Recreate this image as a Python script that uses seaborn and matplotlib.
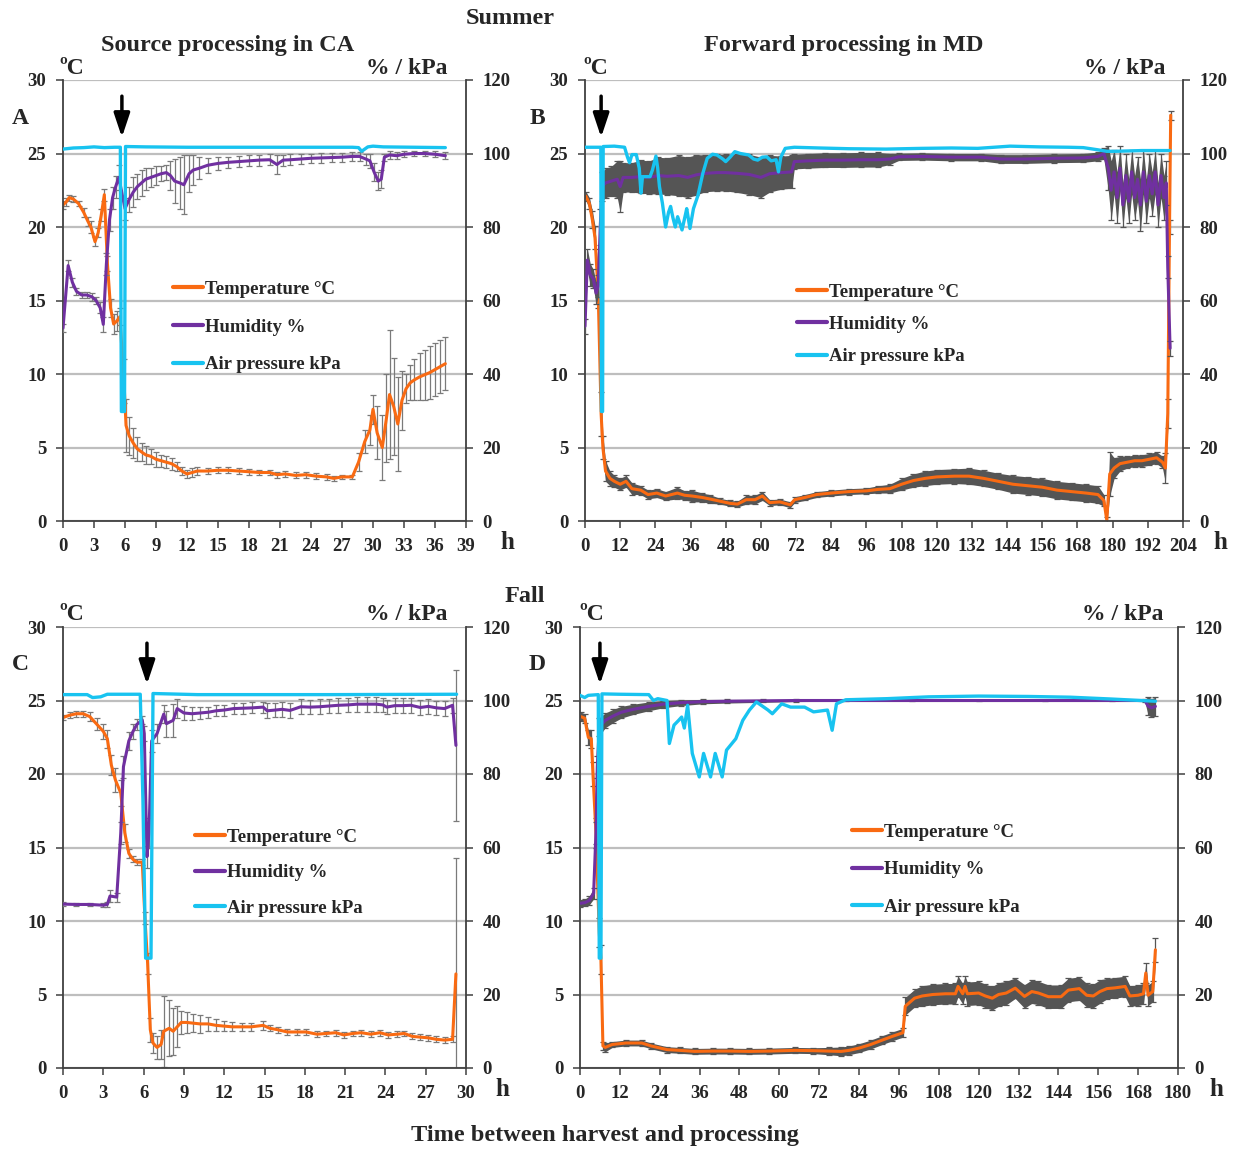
import matplotlib
matplotlib.use("Agg")
import numpy as np
import matplotlib.pyplot as plt
import seaborn as sns
from matplotlib.lines import Line2D

# ---------------- DATA ----------------
# Panel A (Summer, source processing in CA)
A_temp_t = [0.0,0.3,0.6,1.0,1.5,2.0,2.4,2.7,3.1,3.4,3.7,4.0,4.3,4.6,4.9,5.2,5.5,5.9,6.1,6.4,6.8,7.2,7.6,8.0,8.5,9.0,9.5,10.0,10.5,11.0,11.5,12.0,12.5,13.0,14.0,15.0,16.0,17.0,18.0,19.0,20.0,20.7,21.5,22.5,23.5,24.5,25.5,26.2,27.0,28.0,28.6,29.2,29.7,30.0,30.4,30.9,31.3,31.6,32.0,32.4,32.8,33.2,33.6,34.0,34.5,35.0,35.5,36.0,36.5,37.0]
A_temp = [21.5,21.7,22.0,21.9,21.6,21.0,20.4,20.0,19.0,19.6,20.8,22.2,17.5,14.5,13.4,13.6,13.9,9.5,6.5,5.8,5.3,4.9,4.7,4.5,4.4,4.2,4.1,4.0,3.9,3.7,3.4,3.2,3.3,3.4,3.4,3.45,3.45,3.4,3.35,3.3,3.3,3.15,3.2,3.1,3.15,3.05,3.0,2.9,3.0,3.0,4.0,5.4,6.2,7.6,6.0,5.0,7.0,8.6,7.8,6.6,8.2,9.0,9.4,9.6,9.8,9.95,10.1,10.3,10.5,10.7]
A_temp_err = [0.3,0.3,0.2,0.2,0.2,0.3,0.3,0.4,0.3,0.3,0.4,0.4,0.5,0.6,0.7,0.7,0.6,1.5,1.8,1.3,1.0,0.8,0.6,0.6,0.5,0.5,0.4,0.4,0.4,0.3,0.3,0.3,0.3,0.3,0.2,0.2,0.2,0.2,0.2,0.2,0.2,0.2,0.2,0.2,0.2,0.2,0.2,0.15,0.15,0.15,0.6,0.8,1.0,1.0,1.8,2.2,3.0,4.4,3.3,3.2,2.0,1.0,1.2,1.4,1.6,1.7,1.8,1.8,1.8,1.8]
A_hum_t = [0.0,0.5,0.9,1.3,1.8,2.3,2.8,3.2,3.6,3.9,4.2,4.5,4.8,5.1,5.4,6.0,6.4,6.8,7.2,7.6,8.0,8.5,9.0,9.5,10.0,10.4,10.8,11.3,11.7,12.2,12.6,13.2,14.0,15.0,16.0,17.0,18.0,19.0,20.0,20.7,21.3,22.0,23.0,24.0,25.0,26.0,27.0,28.0,28.7,29.3,29.7,30.1,30.5,30.8,31.1,31.6,32.3,33.0,34.0,35.0,36.0,37.0]
A_hum = [52.5,69.5,65.0,62.5,61.5,61.5,61.0,60.0,58.0,53.5,70.0,82.0,88.0,91.0,93.5,85.0,87.5,89.5,91.0,92.0,93.0,93.5,94.0,94.5,94.8,94.0,92.5,92.0,91.5,94.5,95.5,96.0,96.8,97.3,97.6,97.8,98.0,98.2,98.3,97.0,98.2,98.3,98.5,98.7,98.8,98.9,99.0,99.2,99.2,98.5,98.0,95.0,92.5,93.0,99.0,99.6,99.4,99.8,100.0,100.0,99.8,99.4]
A_hum_err = [1.0,1.5,1.2,1.0,0.8,0.8,1.0,1.0,1.5,2.0,3.0,3.0,3.0,3.0,3.5,3.0,3.5,4.0,3.5,3.5,3.0,2.5,2.5,2.0,2.0,4.0,6.0,7.0,8.0,5.0,4.0,3.0,2.0,1.8,1.5,1.5,1.5,1.5,1.5,2.5,1.5,1.5,1.3,1.3,1.3,1.2,1.2,1.2,1.2,1.5,2.0,2.5,2.5,2.5,1.0,1.0,1.0,0.8,0.8,0.8,0.8,1.0]
A_pres_t = [0.0,1.0,2.0,3.0,4.0,5.0,5.55,5.65,5.95,6.05,8.0,12.0,20.0,28.0,28.6,28.9,29.5,30.0,31.0,37.0]
A_pres = [101.2,101.5,101.6,101.8,101.6,101.7,101.7,29.8,29.8,101.9,101.8,101.7,101.7,101.7,101.6,100.6,101.8,102.0,101.8,101.6]

# Panel B (Summer, forward processing in MD)
B_temp_t = [0.3,1.5,2.5,3.4,4.5,5.5,6.1,7.0,8.5,10,12,14,16,19,21.5,24.5,27.5,31.5,34,36.5,40,42.5,46,49.5,52,55,58,60.5,63,66.5,70,71.5,75,79,84,90,96,100,104,108,112,116,120,126,131,136,141,146,151,156,161,166,171,175,177,178,179,180.5,182.5,185,187.5,190,192.5,195,197,198,198.8,199.4,199.8]
B_temp = [22.1,21.6,20.5,19.3,15.5,7.3,5.0,3.4,2.9,2.7,2.5,2.7,2.2,2.1,1.8,1.9,1.7,1.9,1.75,1.7,1.6,1.5,1.35,1.2,1.15,1.45,1.45,1.7,1.25,1.3,1.1,1.45,1.6,1.8,1.9,2.0,2.05,2.15,2.2,2.5,2.75,2.9,3.0,3.05,3.05,2.9,2.7,2.5,2.4,2.3,2.1,2.0,1.9,1.8,1.4,0.05,3.2,3.6,3.9,4.0,4.1,4.1,4.2,4.3,4.0,3.6,7.3,20.0,27.6]
B_temp_err = [0.3,0.4,0.6,0.8,1.0,1.5,0.8,0.7,0.5,0.4,0.4,0.4,0.4,0.3,0.3,0.3,0.3,0.4,0.3,0.4,0.3,0.3,0.2,0.2,0.2,0.3,0.3,0.3,0.2,0.2,0.2,0.2,0.2,0.2,0.2,0.2,0.2,0.25,0.3,0.4,0.45,0.5,0.5,0.5,0.55,0.55,0.55,0.6,0.6,0.6,0.6,0.6,0.6,0.6,0.4,0.2,1.5,0.7,0.5,0.4,0.4,0.4,0.4,0.4,0.4,1.0,1.0,0.5,0.3]
B_hum_t = [0.0,0.8,1.8,2.8,3.8,4.5,5.2,5.8,7,9,11,12,13,16,19,22,25,28,32,35,38,41,45,48,52,56,60,63,67,70.5,71.4,76,82,88,94,100,104,107,115,125,135,142,150,160,170,175,177,178.5,179.5,180.5,181.5,182.5,183.5,184.5,185.5,186.5,187.5,188.5,189.5,190.5,191.5,192.5,193.5,194.5,195.5,196.5,197.5,198.3,198.8,199.6]
B_hum = [53.0,71.0,67.0,66.0,62.0,64.0,80.0,91.0,92.0,92.5,93.0,91.0,93.5,93.5,93.7,93.5,94.0,93.8,94.0,93.5,94.2,94.6,94.8,94.8,94.6,94.3,93.5,94.5,94.8,95.0,97.8,98.0,98.2,98.2,98.3,98.3,98.5,99.1,99.2,99.0,99.0,98.5,98.5,98.7,98.8,99.2,100.0,96.0,90.0,95.0,88.0,96.0,86.0,94.0,87.0,95.0,88.0,93.0,86.0,95.0,87.0,94.0,89.0,95.0,86.0,94.0,88.0,92.0,69.0,47.0]
B_hum_err = [2.0,3.0,3.0,2.5,3.0,3.0,5.0,4.0,4.0,4.0,5.0,7.0,4.0,4.0,4.5,4.5,5.0,5.0,5.5,5.5,5.5,5.0,5.0,5.0,5.2,5.5,5.5,5.0,4.5,4.5,2.0,2.0,2.0,2.0,2.0,2.0,1.5,1.0,1.0,1.0,1.0,1.2,1.2,1.2,1.2,1.2,1.5,6.0,8.0,6.0,7.0,6.0,6.0,6.0,6.0,6.0,6.0,6.0,7.0,6.0,6.0,6.0,6.0,6.0,6.0,6.0,6.0,6.0,3.0,2.0]
B_pres_t = [0.0,5.4,5.6,6.0,6.2,10,13.5,14.5,15.2,16,17.5,18.5,19.1,19.6,22.2,23,24.2,24.8,25.4,26.4,27.5,28.5,29.2,30.0,30.8,31.6,33.1,34.3,34.7,35.8,37.0,38.5,40.2,41.7,43.5,45.0,47,48,49.5,51.1,53,55.8,57.5,58.9,60.5,62,63.5,65.2,66,66.8,68.3,71.4,80,90,102.7,115,125,134,145,155,165,170,175,178,181,190,199.6]
B_pres = [101.7,101.7,29.8,29.8,101.9,102.0,101.7,99.0,97.5,99.7,99.7,96.0,89.2,93.7,93.7,95.5,99.3,96.0,91.0,86.5,80.0,84.0,85.6,82.5,80.0,82.8,79.2,83.5,85.0,79.6,85.0,88.5,94.6,98.7,99.8,99.6,98.5,97.8,99.0,100.5,100.0,99.6,98.5,98.2,99.0,99.1,98.0,98.3,95.0,99.0,101.4,101.7,101.5,101.3,101.2,101.4,101.5,101.4,102.0,101.8,101.7,101.6,101.0,100.6,100.6,100.8,100.8]

# Panel C (Fall, source processing in CA)
C_temp_t = [0.0,0.5,1.0,1.5,2.0,2.5,3.0,3.3,3.6,3.9,4.3,4.6,4.9,5.2,5.5,5.9,6.1,6.3,6.5,6.7,7.0,7.3,7.5,7.9,8.2,8.5,8.8,9.2,9.7,10.2,10.8,11.4,12.0,12.6,13.3,14.0,14.9,15.4,16.0,16.7,17.4,18.1,18.9,19.6,20.3,20.9,21.6,22.2,22.9,23.6,24.2,24.9,25.4,26.0,26.6,27.2,27.8,28.4,29.0,29.25]
C_temp = [23.84,24.0,24.1,24.1,23.9,23.4,22.9,22.4,20.6,19.6,18.7,16.0,14.6,14.2,14.0,14.0,10.2,7.1,2.6,1.7,1.4,1.6,2.5,2.7,2.5,2.8,3.1,3.1,3.05,3.0,3.0,2.9,2.85,2.8,2.8,2.8,2.9,2.7,2.6,2.45,2.45,2.45,2.3,2.35,2.4,2.25,2.35,2.4,2.3,2.4,2.25,2.3,2.35,2.15,2.1,2.05,1.95,1.9,1.95,6.4]
C_temp_err = [0.2,0.2,0.2,0.2,0.3,0.4,0.5,0.6,0.7,0.8,0.9,0.6,0.3,0.2,0.2,0.2,0.4,0.7,0.8,0.7,0.8,1.0,2.4,1.9,1.6,1.4,0.8,0.7,0.6,0.6,0.5,0.4,0.35,0.3,0.25,0.25,0.3,0.2,0.2,0.2,0.2,0.2,0.2,0.2,0.2,0.2,0.2,0.2,0.2,0.2,0.2,0.2,0.2,0.2,0.2,0.2,0.2,0.2,0.2,7.9]
C_hum_t = [0.0,1.0,2.0,3.0,3.3,3.5,4.0,4.3,4.5,4.9,5.2,5.5,5.9,6.05,6.25,6.4,6.6,7.0,7.5,7.7,8.2,8.5,9.0,9.6,10.2,10.8,11.4,12.0,12.7,13.4,14.1,14.9,15.2,15.8,16.3,16.9,17.7,18.4,19.1,19.8,20.5,21.2,21.9,22.6,23.3,23.8,24.1,24.7,25.3,25.9,26.6,27.2,27.8,28.4,29.0,29.25]
C_hum = [44.6,44.5,44.5,44.3,44.5,46.8,46.5,64.0,82.0,89.0,91.5,93.5,94.7,91.0,57.5,64.0,89.0,91.0,96.3,93.7,94.6,97.8,96.6,96.4,96.6,96.8,97.2,97.4,97.8,97.9,98.0,98.2,97.2,97.4,97.6,97.3,98.3,98.2,98.3,98.5,98.7,98.8,99.0,99.0,99.0,98.8,98.2,98.6,98.6,98.7,98.1,98.4,98.0,97.8,98.7,87.8]
C_hum_err = [0.5,0.5,0.5,0.5,0.8,1.5,1.2,3.0,3.0,2.5,2.0,1.5,1.0,2.0,3.0,4.0,3.0,2.5,2.5,3.5,4.5,2.5,2.0,1.8,1.5,1.5,1.5,1.5,1.5,1.5,1.5,1.5,2.0,2.0,2.0,2.0,2.0,2.0,2.0,2.0,2.0,2.0,2.0,2.0,2.0,2.0,2.0,2.0,2.0,2.0,2.0,2.0,2.0,2.0,2.0,20.6]
C_pres_t = [0.0,1.8,2.2,2.8,3.3,5.75,5.95,6.15,6.55,6.7,10,20,29.3]
C_pres = [101.6,101.6,100.8,101.0,101.7,101.7,72.9,29.9,29.9,101.9,101.6,101.6,101.7]

# Panel D (Fall, forward processing in MD)
D_temp_t = [0.3,1.4,2.5,3.4,3.9,4.8,5.8,6.3,6.9,7.6,9.7,13.8,18.6,21.4,26.2,30,34.5,40,45,51,57,64.8,70,75,78.6,81,84.1,87.5,91,94,97.2,97.9,100.7,103,106.2,110,113,113.8,115.2,115.9,116.6,120,122,124.1,126,128.3,131,133.8,136,138,141,144.8,147,150.3,152.5,154.5,156.5,158.6,161,164.1,165.5,168,169.6,170.3,171,172.4,173.2]
D_temp = [23.9,23.8,22.5,22.4,20.0,16.0,9.2,7.4,1.5,1.4,1.6,1.7,1.7,1.5,1.25,1.2,1.13,1.15,1.15,1.13,1.15,1.2,1.18,1.15,1.13,1.2,1.36,1.6,1.9,2.15,2.4,4.2,4.75,4.9,5.0,5.05,5.05,5.55,5.05,5.55,5.05,5.1,4.9,4.75,5.0,5.1,5.43,4.87,5.2,5.1,4.85,4.85,5.3,5.4,4.95,4.9,5.2,5.4,5.45,5.55,4.9,4.95,5.05,6.46,4.95,5.2,8.04]
D_temp_err = [0.3,0.3,0.5,0.6,0.8,1.0,1.0,1.0,0.3,0.3,0.2,0.2,0.2,0.2,0.2,0.2,0.2,0.2,0.2,0.2,0.2,0.2,0.2,0.25,0.3,0.3,0.3,0.3,0.3,0.3,0.3,0.6,0.6,0.7,0.7,0.7,0.7,0.7,0.7,0.7,0.8,0.8,0.8,0.8,0.8,0.8,0.7,0.8,0.8,0.8,0.8,0.8,0.8,0.8,0.8,0.8,0.8,0.7,0.7,0.7,0.7,0.7,0.7,0.7,0.7,0.7,0.8]
D_hum_t = [0.0,1.5,2.8,4.1,4.8,5.2,5.8,7.6,10,12.4,16,20.7,25,30.3,37,44.2,55,65,80,100,120,140,160,170,171,172,173.2]
D_hum = [44.8,45.0,45.6,47.5,64.0,82.0,92.8,94.6,95.8,96.8,97.6,98.4,99.0,99.4,99.7,99.8,99.9,100.0,100.0,100.0,100.0,100.0,100.0,100.0,98.5,98.0,98.4]
D_hum_err = [1.0,1.0,1.2,1.5,3.0,3.0,2.5,2.0,1.8,1.6,1.4,1.2,1.0,0.8,0.6,0.5,0.4,0.3,0.2,0.2,0.2,0.2,0.2,0.3,2.5,2.5,2.5]
D_pres_t = [0.0,1.4,2.5,5.5,5.8,6.3,6.6,12,20.7,22.1,23.4,26.2,26.9,28.3,29.7,30.6,31.4,32.4,33.8,35.9,37.2,39.3,40.7,42.8,44.1,46.9,49,51,53.1,56.6,57.9,60.7,63.4,67.6,70.3,74.5,75.9,77.2,80,92.4,105,120,135,147.6,160,173.2]
D_pres = [101.4,100.8,101.4,101.6,29.9,29.9,101.8,101.7,101.6,100.0,100.5,100.0,88.3,93.3,94.6,95.5,92.5,98.7,85.6,79.2,85.6,79.2,85.6,79.2,86.5,89.6,94.6,97.4,99.6,97.4,96.4,99.1,98.2,98.2,96.9,97.4,91.9,99.1,100.2,100.5,101.0,101.2,101.1,100.9,100.4,99.8]

x_max = [39, 204, 30, 180]
x_step = [3, 12, 3, 12]
arrow_x = [5.7, 5.5, 6.25, 6.0]
panel_letters = ["A", "B", "C", "D"]
series_labels = ["Temperature °C", "Humidity %", "Air pressure kPa"]

# ---------------- STYLE ----------------
sns.set_style("ticks")
plt.rcParams["font.family"] = ["Liberation Serif", "DejaVu Serif"]
plt.rcParams["font.weight"] = "bold"

C_T = "#F96A12"
C_H = "#7030A0"
C_P = "#18C3F0"
C_ERR = "#7A7A7A"
C_BAND = "#555555"
SP = "#404040"

W, H = 1239, 1149
fig = plt.figure(figsize=(W / 100, H / 100), dpi=100)

def px_rect(l, r, t, b):
    return [l / W, 1 - b / H, (r - l) / W, (b - t) / H]

rects = [px_rect(63, 466, 80, 521), px_rect(585, 1183, 80, 521),
         px_rect(63, 466, 627, 1068), px_rect(580, 1178, 627, 1068)]

panels = [
    (A_temp_t, A_temp, A_temp_err, A_hum_t, A_hum, A_hum_err, A_pres_t, A_pres, False),
    (B_temp_t, B_temp, B_temp_err, B_hum_t, B_hum, B_hum_err, B_pres_t, B_pres, True),
    (C_temp_t, C_temp, C_temp_err, C_hum_t, C_hum, C_hum_err, C_pres_t, C_pres, False),
    (D_temp_t, D_temp, D_temp_err, D_hum_t, D_hum, D_hum_err, D_pres_t, D_pres, True),
]
legend_pos = [(0.273, 0.545, 1.10), (0.355, 0.538, 0.80), (0.328, 0.543, 0.98), (0.455, 0.554, 1.09)]

for i, (tt, tv, te, ht, hv, he, pt, pv, band) in enumerate(panels):
    ax = fig.add_axes(rects[i])
    ax2 = ax.twinx()
    tt = np.array(tt); tv = np.array(tv); te = np.array(te)
    ht = np.array(ht); hv = np.array(hv); he = np.array(he)

    ax.set_ylim(0, 30)
    ax2.set_ylim(0, 120)
    ax.set_xlim(0, x_max[i])
    ax.set_yticks(range(0, 31, 5))
    ax2.set_yticks(range(0, 121, 20))
    ax.set_xticks(range(0, x_max[i] + 1, x_step[i]))
    ax.yaxis.grid(True, color="#BEBEBE", lw=1.6)
    ax.set_axisbelow(True)

    ecol = C_BAND if band else C_ERR
    if band:
        ax.fill_between(tt, tv - te, tv + te, color=C_BAND, lw=0)
        ax2.fill_between(ht, hv - he, hv + he, color=C_BAND, lw=0)
    ax.errorbar(tt, tv, yerr=te, fmt="none", ecolor=ecol, elinewidth=0.9, capsize=2, capthick=0.9)
    sns.lineplot(x=tt, y=tv, ax=ax, color=C_T, lw=2.2, estimator=None, sort=False, legend=False)
    ax2.errorbar(ht, hv, yerr=he, fmt="none", ecolor=ecol, elinewidth=0.9, capsize=2, capthick=0.9)
    sns.lineplot(x=ht, y=hv, ax=ax2, color=C_H, lw=2.2, estimator=None, sort=False, legend=False)
    sns.lineplot(x=np.array(pt), y=np.array(pv), ax=ax2, color=C_P, lw=2.4, estimator=None, sort=False, legend=False)
    ax.set_xlim(0, x_max[i])

    for a in (ax, ax2):
        a.set_xlabel("")
        a.set_ylabel("")
        a.spines["top"].set_visible(False)
        for s in ("left", "right", "bottom"):
            a.spines[s].set_color(SP)
            a.spines[s].set_linewidth(1.3)
    ax.spines["right"].set_visible(False)
    ax2.spines["left"].set_visible(False)
    ax2.spines["bottom"].set_visible(False)
    ax.tick_params(axis="both", direction="out", length=5, width=1.1, color=SP,
                   labelsize=13.5, pad=7)
    ax2.tick_params(axis="y", direction="out", length=5, width=1.1, color=SP,
                    labelsize=13.5, pad=7, right=True)
    for lab in ax.get_xticklabels() + ax.get_yticklabels() + ax2.get_yticklabels():
        lab.set_fontweight("bold")

    ax.annotate("", xy=(arrow_x[i], 26.1), xytext=(arrow_x[i], 28.9),
                arrowprops=dict(arrowstyle="-|>,head_width=0.3,head_length=0.9", color="black",
                                lw=2.5, mutation_scale=16, shrinkA=0, shrinkB=0))

    handles = [Line2D([0], [0], color=c, lw=3) for c in (C_T, C_H, C_P)]
    lx, ly, ls = legend_pos[i]
    ax2.legend(handles, series_labels, loc="upper left", bbox_to_anchor=(lx, ly),
               frameon=False, borderaxespad=0, borderpad=0, handlelength=1.6,
               handletextpad=0.1, labelspacing=ls,
               prop={"family": "Liberation Serif", "weight": "bold", "size": 13.5})

def ftext(x, y, s, size=17.5, ha="center"):
    fig.text(x / W, 1 - y / H, s, ha=ha, va="center", fontsize=size, fontweight="bold")

ftext(510, 18, "Summer")
ftext(228, 45, "Source processing in CA")
ftext(844, 45, "Forward processing in MD")
ftext(525, 597, "Fall")
ftext(605, 1135, "Time between harvest and processing")
for (x, y) in [(72, 69), (596, 69), (72, 615), (592, 615)]:
    ftext(x, y, "ºC", size=17)
for (x, y) in [(448, 69), (1165, 69), (448, 615), (1163, 615)]:
    ftext(x, y, "% / kPa", size=17, ha="right")
for (x, y), s in zip([(20, 119), (537, 119), (20, 665), (537, 665)], panel_letters):
    ftext(x, y, s, size=17)
for (x, y) in [(507, 542), (1220, 542), (502, 1090), (1216, 1090)]:
    ftext(x, y, "h", size=18)

fig.savefig("out.png", dpi=100)
